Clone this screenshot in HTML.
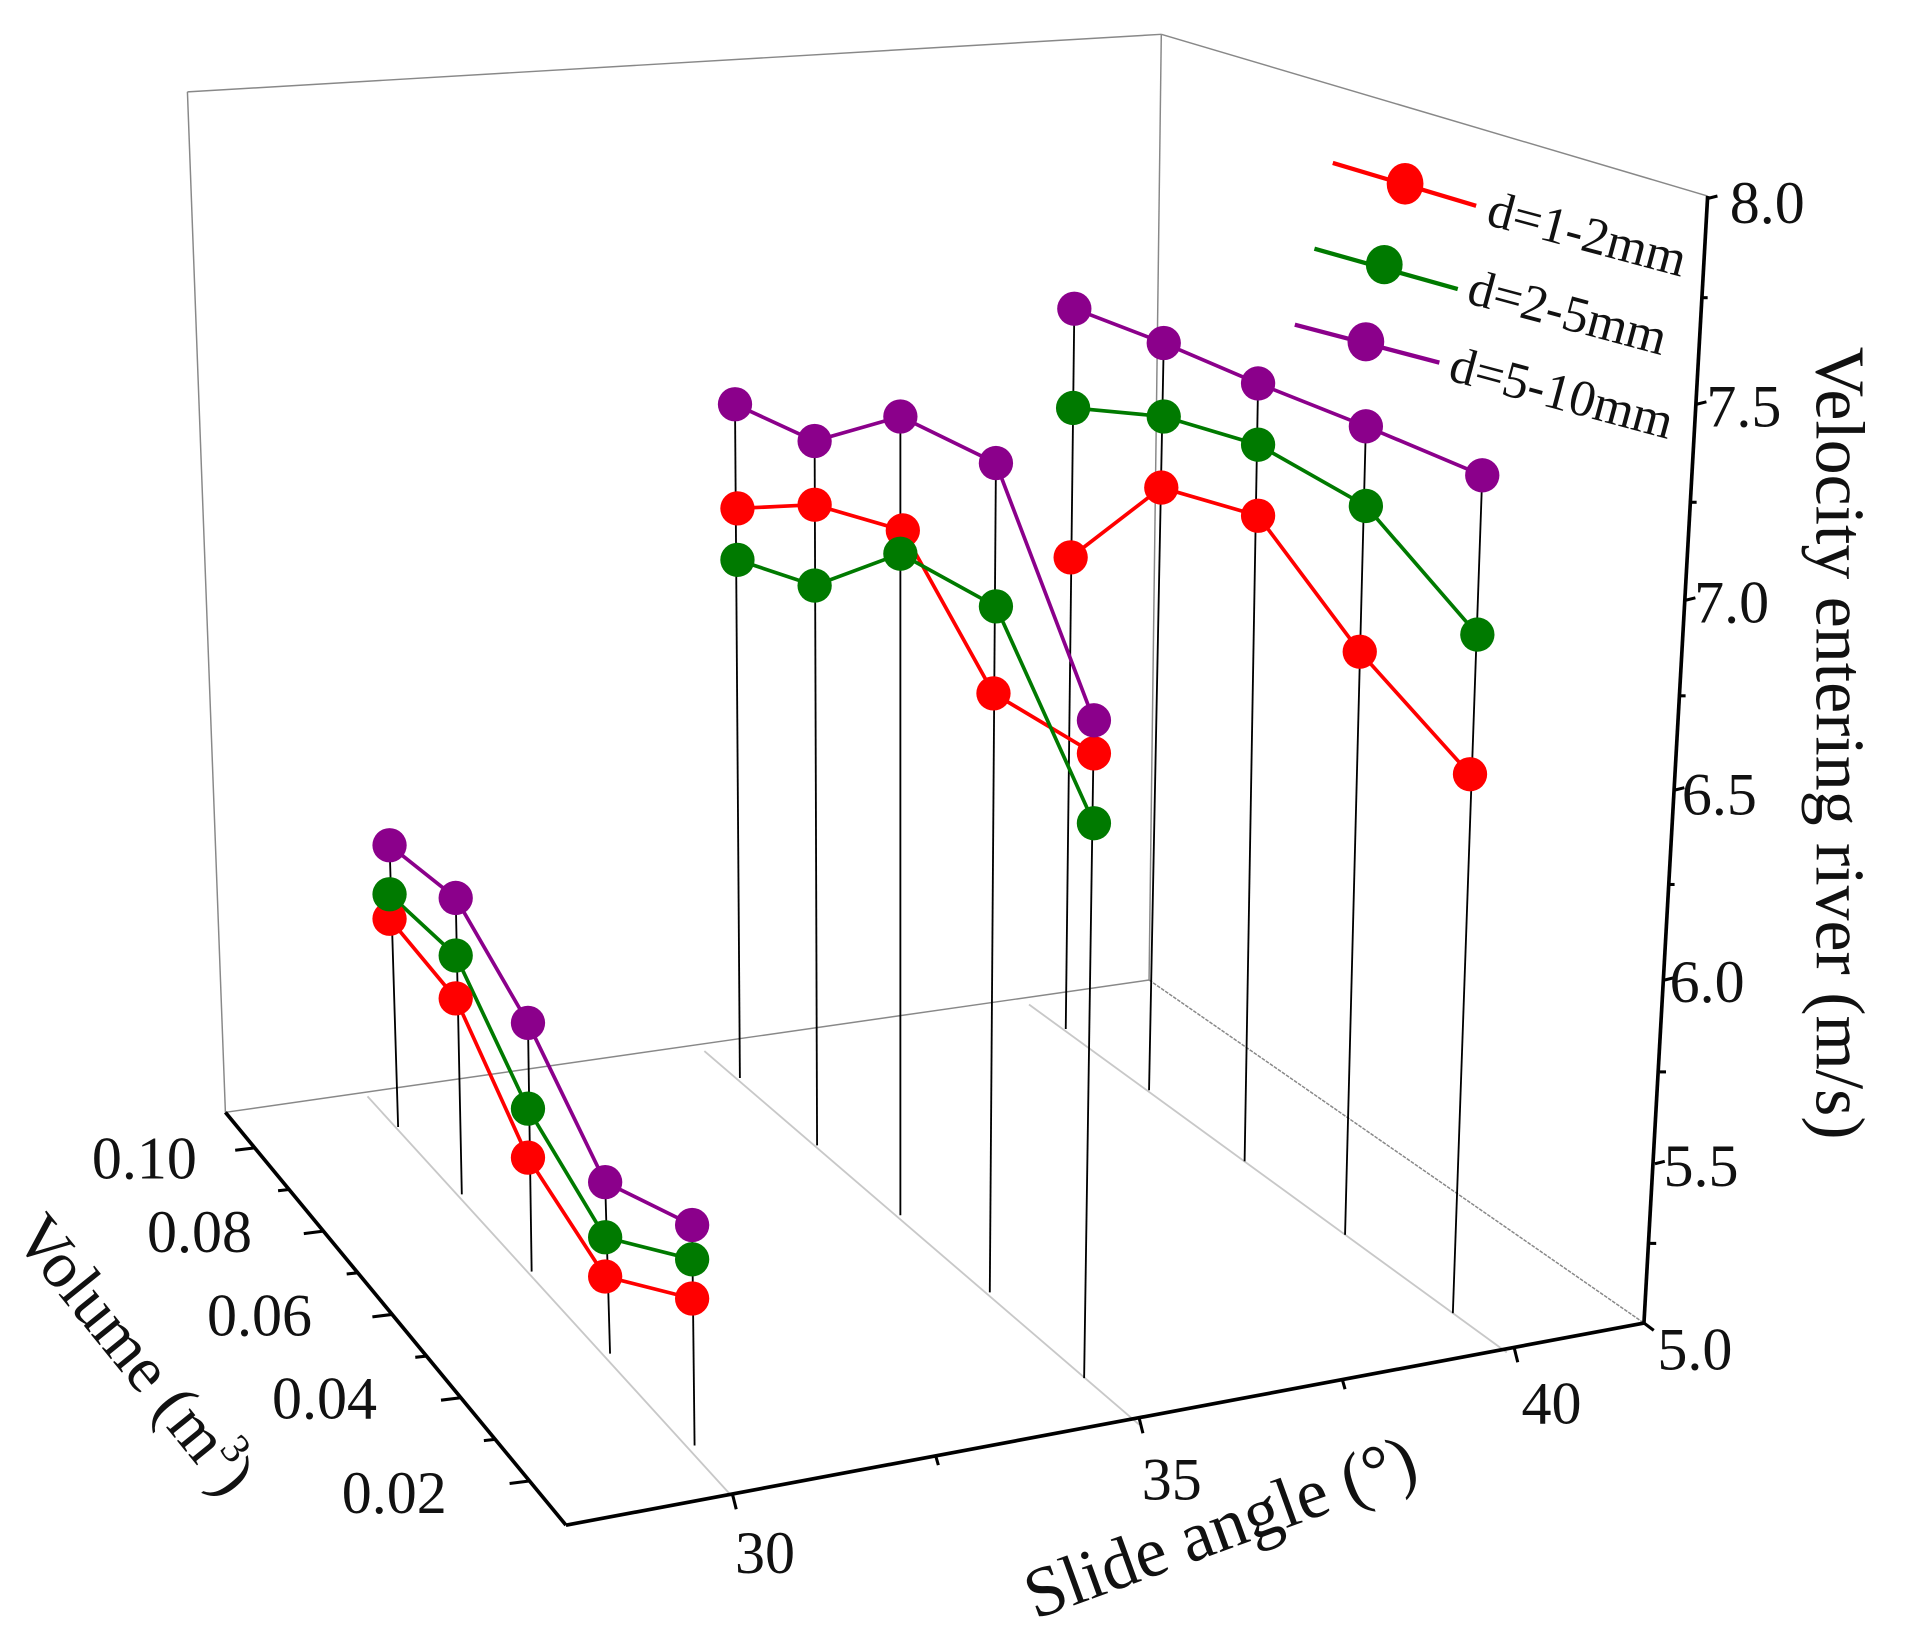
<!DOCTYPE html>
<html><head><meta charset="utf-8"><style>
html,body{margin:0;padding:0;background:#fff;}
svg{display:block;}
text{font-family:"Liberation Serif",serif;fill:#111;}
</style></head><body>
<svg width="1911" height="1631" viewBox="0 0 1560 1331.4" xmlns="http://www.w3.org/2000/svg">
<g stroke="#888" stroke-width="1.2" fill="none">
<line x1="153" y1="75" x2="184" y2="908"/>
<line x1="153" y1="75" x2="948" y2="28"/>
<line x1="948" y1="28" x2="938" y2="800"/>
<line x1="948" y1="28" x2="1394" y2="160"/>
<line x1="184" y1="908" x2="938" y2="800"/>
<line x1="938" y1="800" x2="1342" y2="1080" stroke-dasharray="3,1"/>
</g>
<g stroke="#c8c8c8" stroke-width="1.5">
<line x1="300" y1="895" x2="598" y2="1222"/>
<line x1="575" y1="858" x2="930" y2="1163"/>
<line x1="840" y1="820" x2="1230" y2="1104"/>
</g>
<g stroke="#000" stroke-width="3" fill="none">
<line x1="184" y1="908" x2="462" y2="1245"/>
<line x1="462" y1="1245" x2="1342" y2="1080"/>
<line x1="1342" y1="1080" x2="1394" y2="160"/>
</g>
<g stroke="#000" stroke-width="2.5">
<line x1="208" y1="937" x2="192" y2="939"/>
<line x1="236" y1="971" x2="227" y2="972"/>
<line x1="264" y1="1005" x2="248" y2="1007"/>
<line x1="292" y1="1039" x2="283" y2="1040"/>
<line x1="320" y1="1073" x2="304" y2="1075"/>
<line x1="348" y1="1107" x2="339" y2="1108"/>
<line x1="376" y1="1141" x2="360" y2="1143"/>
<line x1="404" y1="1175" x2="395" y2="1176"/>
<line x1="432" y1="1209" x2="416" y2="1211"/>
<line x1="598" y1="1220" x2="601" y2="1232"/>
<line x1="764" y1="1189" x2="766" y2="1196"/>
<line x1="930" y1="1158" x2="933" y2="1170"/>
<line x1="1096" y1="1127" x2="1098" y2="1134"/>
<line x1="1236" y1="1100" x2="1239" y2="1112"/>
<line x1="1394" y1="162" x2="1402" y2="160"/>
<line x1="1389" y1="243" x2="1394" y2="243"/>
<line x1="1385" y1="330" x2="1393" y2="328"/>
<line x1="1380" y1="410" x2="1385" y2="410"/>
<line x1="1376" y1="490" x2="1384" y2="488"/>
<line x1="1371" y1="568" x2="1376" y2="568"/>
<line x1="1367" y1="645" x2="1375" y2="643"/>
<line x1="1362" y1="722" x2="1367" y2="722"/>
<line x1="1359" y1="800" x2="1367" y2="798"/>
<line x1="1355" y1="875" x2="1360" y2="875"/>
<line x1="1351" y1="950" x2="1359" y2="948"/>
<line x1="1347" y1="1015" x2="1352" y2="1015"/>
<line x1="1342" y1="1080" x2="1350" y2="1086"/>
</g>
<g font-size="49">
<text x="1412" y="182">8.0</text>
<text x="1393" y="348">7.5</text>
<text x="1383" y="508">7.0</text>
<text x="1373" y="665">6.5</text>
<text x="1363" y="818">6.0</text>
<text x="1358" y="968">5.5</text>
<text x="1353" y="1118">5.0</text>
<text x="75" y="962">0.10</text>
<text x="120" y="1022">0.08</text>
<text x="169" y="1090">0.06</text>
<text x="222" y="1158">0.04</text>
<text x="279" y="1235">0.02</text>
<text x="600" y="1284">30</text>
<text x="932" y="1224">35</text>
<text x="1242" y="1162">40</text>
</g>
<text font-size="57" transform="translate(1483,283) rotate(90)">Velocity entering river (m/s)</text>
<text font-size="54" transform="translate(10,1010) rotate(51)">Volume (m<tspan font-size="34" dy="-22">3</tspan><tspan dy="22">)</tspan></text>
<text font-size="58" transform="translate(845,1322) rotate(-20)">Slide angle (°)</text>
<g stroke="#000" stroke-width="1.5">
<line x1="318" y1="690" x2="325" y2="920"/>
<line x1="372" y1="733" x2="377" y2="975"/>
<line x1="431" y1="835" x2="434" y2="1038"/>
<line x1="494" y1="965" x2="498" y2="1105"/>
<line x1="565" y1="1000" x2="567" y2="1180"/>
<line x1="600" y1="330" x2="604" y2="880"/>
<line x1="665" y1="360" x2="667" y2="935"/>
<line x1="735" y1="340" x2="735" y2="992"/>
<line x1="813" y1="378" x2="808" y2="1055"/>
<line x1="893" y1="588" x2="885" y2="1125"/>
<line x1="877" y1="252" x2="870" y2="840"/>
<line x1="950" y1="280" x2="938" y2="890"/>
<line x1="1027" y1="313" x2="1016" y2="948"/>
<line x1="1115" y1="348" x2="1098" y2="1008"/>
<line x1="1210" y1="388" x2="1186" y2="1072"/>
</g>
<g stroke-width="3" fill="none">
<polyline stroke="#ff0000" points="318,750 372,815 431,945 494,1042 565,1060"/>
<polyline stroke="#007a00" points="318,730 372,780 431,905 494,1010 565,1028"/>
<polyline stroke="#8b008b" points="318,690 372,733 431,835 494,965 565,1000"/>
<polyline stroke="#8b008b" points="600,330 665,360 735,340 813,378 893,588"/>
<polyline stroke="#ff0000" points="602,415 665,412 737,433 811,566 893,615"/>
<polyline stroke="#007a00" points="602,457 665,478 735,452 813,495 893,672"/>
<polyline stroke="#8b008b" points="877,252 950,280 1027,313 1115,348 1210,388"/>
<polyline stroke="#007a00" points="876,333 950,340 1027,363 1115,413 1206,518"/>
<polyline stroke="#ff0000" points="874,455 948,398 1027,421 1110,532 1200,632"/>
</g>
<g fill="#ff0000">
<circle cx="318" cy="750" r="14"/><circle cx="372" cy="815" r="14"/><circle cx="431" cy="945" r="14"/><circle cx="494" cy="1042" r="14"/><circle cx="565" cy="1060" r="14"/>
<circle cx="602" cy="415" r="14"/><circle cx="665" cy="412" r="14"/><circle cx="737" cy="433" r="14"/><circle cx="811" cy="566" r="14"/><circle cx="893" cy="615" r="14"/>
<circle cx="874" cy="455" r="14"/><circle cx="948" cy="398" r="14"/><circle cx="1027" cy="421" r="14"/><circle cx="1110" cy="532" r="14"/><circle cx="1200" cy="632" r="14"/>
</g>
<g fill="#007a00">
<circle cx="318" cy="730" r="14"/><circle cx="372" cy="780" r="14"/><circle cx="431" cy="905" r="14"/><circle cx="494" cy="1010" r="14"/><circle cx="565" cy="1028" r="14"/>
<circle cx="602" cy="457" r="14"/><circle cx="665" cy="478" r="14"/><circle cx="735" cy="452" r="14"/><circle cx="813" cy="495" r="14"/><circle cx="893" cy="672" r="14"/>
<circle cx="876" cy="333" r="14"/><circle cx="950" cy="340" r="14"/><circle cx="1027" cy="363" r="14"/><circle cx="1115" cy="413" r="14"/><circle cx="1206" cy="518" r="14"/>
</g>
<g fill="#8b008b">
<circle cx="318" cy="690" r="14"/><circle cx="372" cy="733" r="14"/><circle cx="431" cy="835" r="14"/><circle cx="494" cy="965" r="14"/><circle cx="565" cy="1000" r="14"/>
<circle cx="600" cy="330" r="14"/><circle cx="665" cy="360" r="14"/><circle cx="735" cy="340" r="14"/><circle cx="813" cy="378" r="14"/><circle cx="893" cy="588" r="14"/>
<circle cx="877" cy="252" r="14"/><circle cx="950" cy="280" r="14"/><circle cx="1027" cy="313" r="14"/><circle cx="1115" cy="348" r="14"/><circle cx="1210" cy="388" r="14"/>
</g>
<g stroke-width="3.5">
<line x1="1088" y1="133" x2="1205" y2="168" stroke="#ff0000"/>
<line x1="1073" y1="203" x2="1190" y2="236" stroke="#007a00"/>
<line x1="1057" y1="265" x2="1175" y2="296" stroke="#8b008b"/>
</g>
<ellipse cx="1147" cy="150" rx="15" ry="17" fill="#ff0000"/>
<ellipse cx="1130" cy="216" rx="15" ry="16" fill="#007a00"/>
<ellipse cx="1115" cy="279" rx="15" ry="16" fill="#8b008b"/>
<g font-size="42">
<text transform="translate(1212,183) rotate(15)">d=1-2mm</text>
<text transform="translate(1196,247) rotate(15)">d=2-5mm</text>
<text transform="translate(1181,310) rotate(15)">d=5-10mm</text>
</g>
</svg>
</body></html>
